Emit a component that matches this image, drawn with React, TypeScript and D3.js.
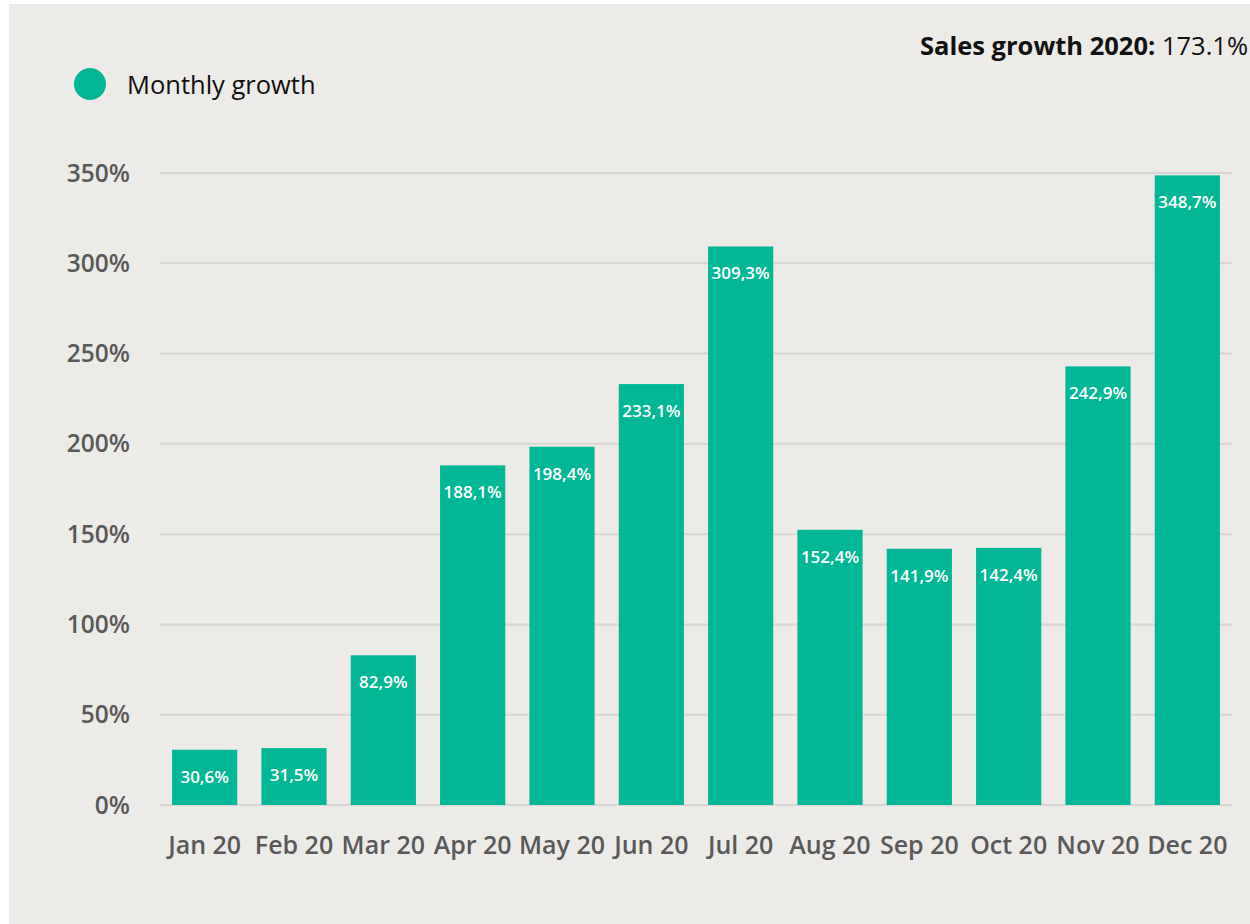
import React from "react";
import * as d3 from "d3";

const months = ["Jan 20","Feb 20","Mar 20","Apr 20","May 20","Jun 20","Jul 20","Aug 20","Sep 20","Oct 20","Nov 20","Dec 20"];
const growth = [30.6, 31.5, 82.9, 188.1, 198.4, 233.1, 309.3, 152.4, 141.9, 142.4, 242.9, 348.7];
const yTicks = [0, 50, 100, 150, 200, 250, 300, 350];
const seriesName = "Monthly growth";
const titleBold = "Sales growth 2020:";
const titleValue = " 173.1%";

const W = 1250, H = 924;
const FONT = "'Open Sans', 'Noto Sans', sans-serif";
const GREEN = "#01B795";

export default function App() {
  const x = d3.scaleBand<string>().domain(months).range([160, 1232]).paddingInner(0.27).paddingOuter(0.135);
  const y = d3.scaleLinear().domain([0, 350]).range([805, 173]);
  const fmt = (v: number) => v.toFixed(1).replace(".", ",") + "%";
  return (
    <svg width={W} height={H} style={{ position: "absolute", left: 0, top: 0 }} fontFamily={FONT}>
      <rect x={9} y={4} width={W - 9} height={H - 4} fill="#EDEBE8" />
      <text x={1248} y={55} textAnchor="end" fontSize={25.5} fill="#111">
        <tspan fontWeight={700}>{titleBold}</tspan>
        <tspan>{titleValue}</tspan>
      </text>
      <circle cx={90} cy={84} r={16} fill={GREEN} />
      <text x={127} y={94} fontSize={25.5} fill="#111">{seriesName}</text>
      {yTicks.map(t => (
        <g key={t}>
          <line x1={160} x2={1232} y1={y(t)} y2={y(t)} stroke="#D8D6D5" strokeWidth={2} />
          <text x={130} y={y(t)} dy="0.35em" textAnchor="end" fontSize={24.5} fontWeight={600} fill="#595959">{t + "%"}</text>
        </g>
      ))}
      {months.map((m, i) => (
        <g key={m}>
          <rect x={x(m)} y={y(growth[i])} width={x.bandwidth()} height={y(0) - y(growth[i])} fill={GREEN} />
          <text x={(x(m) as number) + x.bandwidth() / 2} y={y(growth[i]) + 27} dy="0.35em" textAnchor="middle" fontSize={17} fontWeight={600} fill="#fff">{fmt(growth[i])}</text>
          <text x={(x(m) as number) + x.bandwidth() / 2} y={845} dy="0.35em" textAnchor="middle" fontSize={25} fontWeight={600} fill="#595959">{m}</text>
        </g>
      ))}
    </svg>
  );
}
